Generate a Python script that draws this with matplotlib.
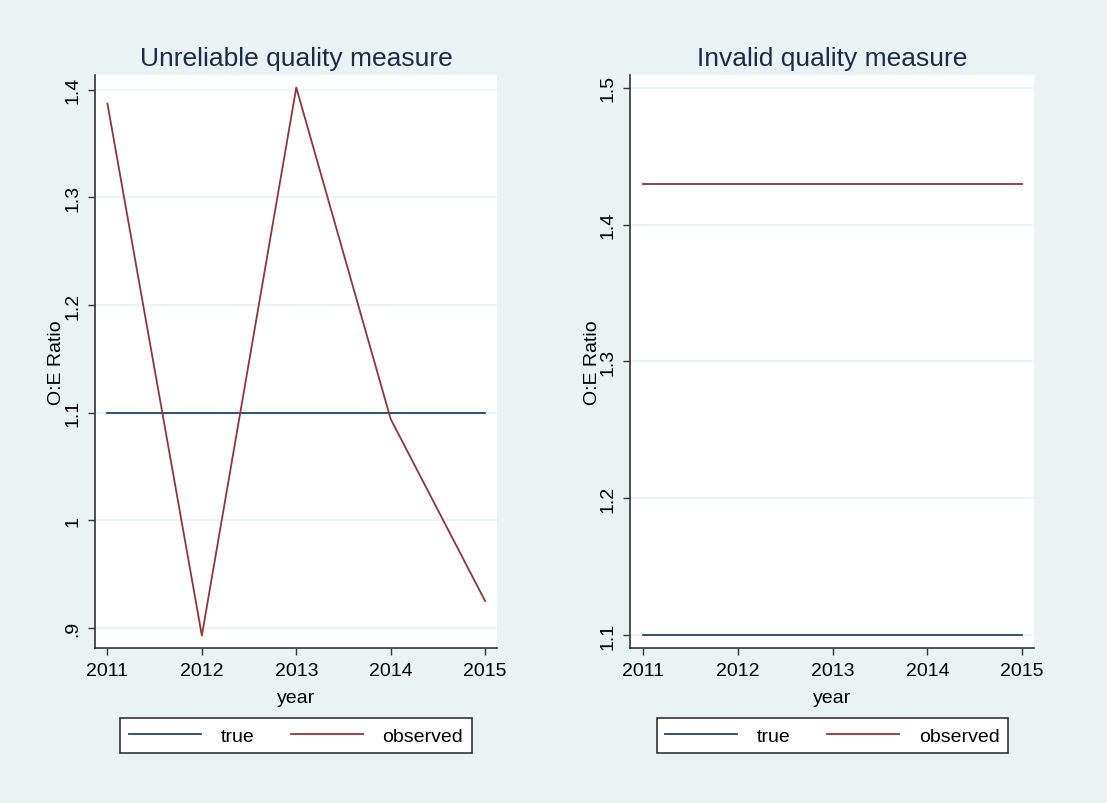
import matplotlib.pyplot as plt
from matplotlib.ticker import FixedLocator

plt.rcParams['font.family'] = ['Liberation Sans', 'DejaVu Sans']

# Data
years = [2011, 2012, 2013, 2014, 2015]
true_unreliable = [1.1, 1.1, 1.1, 1.1, 1.1]
obs_unreliable = [1.387, 0.893, 1.402, 1.094, 0.925]
true_invalid = [1.1, 1.1, 1.1, 1.1, 1.1]
obs_invalid = [1.43, 1.43, 1.43, 1.43, 1.43]

ticks_left = [0.9, 1.0, 1.1, 1.2, 1.3, 1.4]
labels_left = ['.9', '1', '1.1', '1.2', '1.3', '1.4']
ticks_right = [1.1, 1.2, 1.3, 1.4, 1.5]
labels_right = ['1.1', '1.2', '1.3', '1.4', '1.5']

NAVY = '#1a476f'
MAROON = '#90353b'
BG = '#eaf2f3'
TITLE_C = '#1e2a4a'

fig = plt.figure(figsize=(11.07, 8.04), dpi=100, facecolor=BG)

panels = [
    ([0.0858, 0.1928, 0.3631, 0.7127], 'Unreliable quality measure',
     true_unreliable, obs_unreliable, ticks_left, labels_left, (0.8814, 1.4137), 0.2676),
    ([0.5694, 0.1928, 0.3647, 0.7127], 'Invalid quality measure',
     true_invalid, obs_invalid, ticks_right, labels_right, (1.0907, 1.5093), 0.752),
]

for pos, title, tr, ob, yt, yl, ylim, legx in panels:
    ax = fig.add_axes(pos)
    ax.set_facecolor('white')
    ax.plot(years, tr, color=NAVY, lw=1.3, label='true')
    ax.plot(years, ob, color=MAROON, lw=1.3, label='observed')
    ax.set_xlim(2010.868, 2015.125)
    ax.set_ylim(*ylim)
    ax.set_xticks(years)
    ax.set_xticklabels([str(y) for y in years], fontsize=14)
    ax.yaxis.set_major_locator(FixedLocator(yt))
    ax.set_yticklabels(yl, fontsize=14, rotation=90, va='center')
    ax.grid(axis='y', color=BG, lw=1.2)
    ax.set_axisbelow(True)
    for s in ['top', 'right']:
        ax.spines[s].set_visible(False)
    for s in ['left', 'bottom']:
        ax.spines[s].set_color('#333333')
        ax.spines[s].set_linewidth(1.2)
    ax.tick_params(length=5, width=1, color='#333333', pad=5)
    ax.set_xlabel('year', fontsize=14, labelpad=7)
    ax.set_ylabel('O:E Ratio', fontsize=14, labelpad=-1)
    ax.set_title(title, fontsize=19, color=TITLE_C, pad=7)
    leg = ax.legend(loc='center', bbox_to_anchor=(legx, 0.0835),
                    bbox_transform=fig.transFigure, ncol=2, fontsize=14,
                    frameon=True, fancybox=False, edgecolor='#333333',
                    facecolor='white', framealpha=1,
                    handlelength=3.7, handletextpad=1.0, columnspacing=1.9,
                    borderpad=0.45, borderaxespad=0)
    leg.get_frame().set_linewidth(1.2)

fig.savefig('out.png', dpi=100, facecolor=BG)
